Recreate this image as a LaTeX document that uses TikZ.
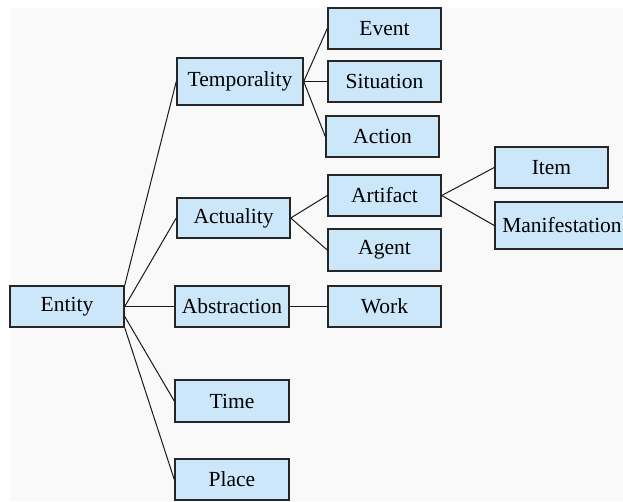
\documentclass[tikz,border=0pt]{standalone}
\usepackage{fontspec}
\setmainfont{Liberation Serif}
\definecolor{boxblue}{RGB}{204,230,250}
\definecolor{paper}{RGB}{249,249,249}
\tikzset{every picture/.append style={x=1pt, y=-1pt}}
\tikzset{
  cls/.style={draw=black!85, line width=1.5pt, fill=boxblue, inner sep=0pt,
    minimum width=113pt, minimum height=41pt, font=\fontsize{21.5}{24}\selectfont},
  link/.style={draw=black!90, line width=1pt}
}

\begin{document}
\begin{tikzpicture}
  \useasboundingbox (0,0) rectangle (623,501);
  \fill[white] (0,0) rectangle (623,501);
  \fill[paper] (10,8) rectangle (623,501);
  \node[cls, minimum width=114pt] (entity) at(67,306.5){Entity};
  \node[cls, minimum width=126pt, minimum height=47pt] (temporality) at(240,81.5){Temporality};
  \node[cls, minimum height=40pt] (actuality) at(233.5,218){Actuality};
  \node[cls, minimum width=114pt] (abstraction) at(232,306.5){Abstraction};
  \node[cls, minimum width=114pt, minimum height=42pt] (time) at(232,401){Time};
  \node[cls, minimum width=114pt] (place) at(232,479.5){Place};
  \node[cls] (event) at(384.5,28.5){Event};
  \node[cls] (situation) at(384.5,81.5){Situation};
  \node[cls] (action) at(382.5,136.5){Action};
  \node[cls] (artifact) at(384.5,195.5){Artifact};
  \node[cls, minimum height=42pt] (agent) at(384.5,250){Agent};
  \node[cls] (work) at(384.5,306.5){Work};
  \node[cls, minimum width=113pt] (item) at(551.5,167.5){Item};
  \node[cls, minimum width=134pt, minimum height=47pt] (manifestation) at(562,225.5){Manifestation};
  % Entity
  \draw[link] (entity.north east) -- (temporality.west);
  \draw[link] (entity.east) -- (actuality.west);
  \draw[link] (entity.east) -- (abstraction.west);
  \draw[link] ([yshift=-10pt]entity.east) -- (time.west);
  \draw[link] (entity.south east) -- (place.west);
  % second level
  \draw[link] (temporality.east) -- (event.west);
  \draw[link] (temporality.east) -- (situation.west);
  \draw[link] (temporality.east) -- (action.west);
  \draw[link] (actuality.east) -- (artifact.west);
  \draw[link] (actuality.east) -- (agent.west);
  \draw[link] (abstraction.east) -- (work.west);
  \draw[link] (artifact.east) -- (item.west);
  \draw[link] (artifact.east) -- (manifestation.west);
\end{tikzpicture}
\end{document}
